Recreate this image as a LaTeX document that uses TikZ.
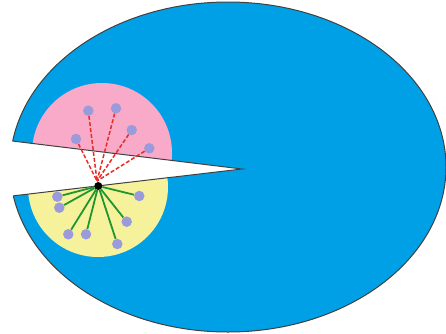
\documentclass[tikz,border=0pt]{standalone}
\begin{document}
\begin{tikzpicture}[x=1pt,y=-1pt,
  dotnode/.style={circle,fill=dotc,inner sep=0pt,minimum size=10.5pt},
  hub/.style={circle,fill=black,inner sep=0pt,minimum size=8pt},
  redlink/.style={draw=redc,line width=1.5pt,dash pattern=on 4pt off 2pt},
  greenlink/.style={draw=greenc,line width=1.8pt},
  edgeline/.style={draw=black!75,line width=1pt}]
\definecolor{bluec}{RGB}{0,160,230}
\definecolor{pinkc}{RGB}{248,170,200}
\definecolor{yellowc}{RGB}{246,241,155}
\definecolor{dotc}{RGB}{155,155,220}
\definecolor{redc}{RGB}{230,45,40}
\definecolor{greenc}{RGB}{30,150,50}
\useasboundingbox (0,0) rectangle (446,333);
% ellipse
\fill[bluec] (228,167) ellipse [x radius=218, y radius=165];
% pink disc (above slit)
\begin{scope}
  \clip (0,0) -- (446,0) -- (446,193.8) -- (0,139.5) -- cycle;
  \fill[pinkc] (102,153) circle [radius=70];
\end{scope}
% yellow disc (below slit)
\begin{scope}
  \clip (0,197.4) -- (446,145) -- (446,333) -- (0,333) -- cycle;
  \fill[yellowc] (98,187) circle [radius=70];
\end{scope}
% slit
\fill[white] (0,139.5) -- (242,169) -- (0,197.4) -- cycle;
\coordinate (tip) at (242,169);
\coordinate (ul) at (0,139.5);
\coordinate (ll) at (0,197.4);
% outline of ellipse, excluding slit
\begin{scope}
  \clip (0,0) -- (446,0) -- (446,333) -- (0,333) -- (ll) -- (tip) -- (ul) -- cycle;
  \draw[edgeline] (228,167) ellipse [x radius=218, y radius=165];
\end{scope}
\begin{scope}
  \clip (228,167) ellipse [x radius=218, y radius=165];
  \draw[edgeline] (ul) -- (tip) -- (ll);
\end{scope}
% hub and convergence
\coordinate (conv) at (97,181);
% red links
\foreach \n/\p in {p1/{(88.3,110.7)},p2/{(116,108.3)},p3/{(131.7,130)},p4/{(76,139)},p5/{(149.3,148.3)}}{
  \node[dotnode] (\n) at \p {};
}
\foreach \n in {p1,p2,p3,p4,p5}{
  \draw[redlink] (\n) -- (conv);
}
\node[hub] (h) at (98.3,186) {};
\foreach \n/\p in {y1/{(57.3,196.7)},y2/{(59.3,207.7)},y3/{(139.3,196)},y4/{(126.7,221.7)},y5/{(68.3,234.3)},y6/{(86,234.3)},y7/{(117.3,244)}}{
  \node[dotnode] (\n) at \p {};
}
\foreach \n in {y1,y2,y3,y4,y5,y6,y7}{
  \draw[greenlink] (h) -- (\n);
}
\end{tikzpicture}
\end{document}
